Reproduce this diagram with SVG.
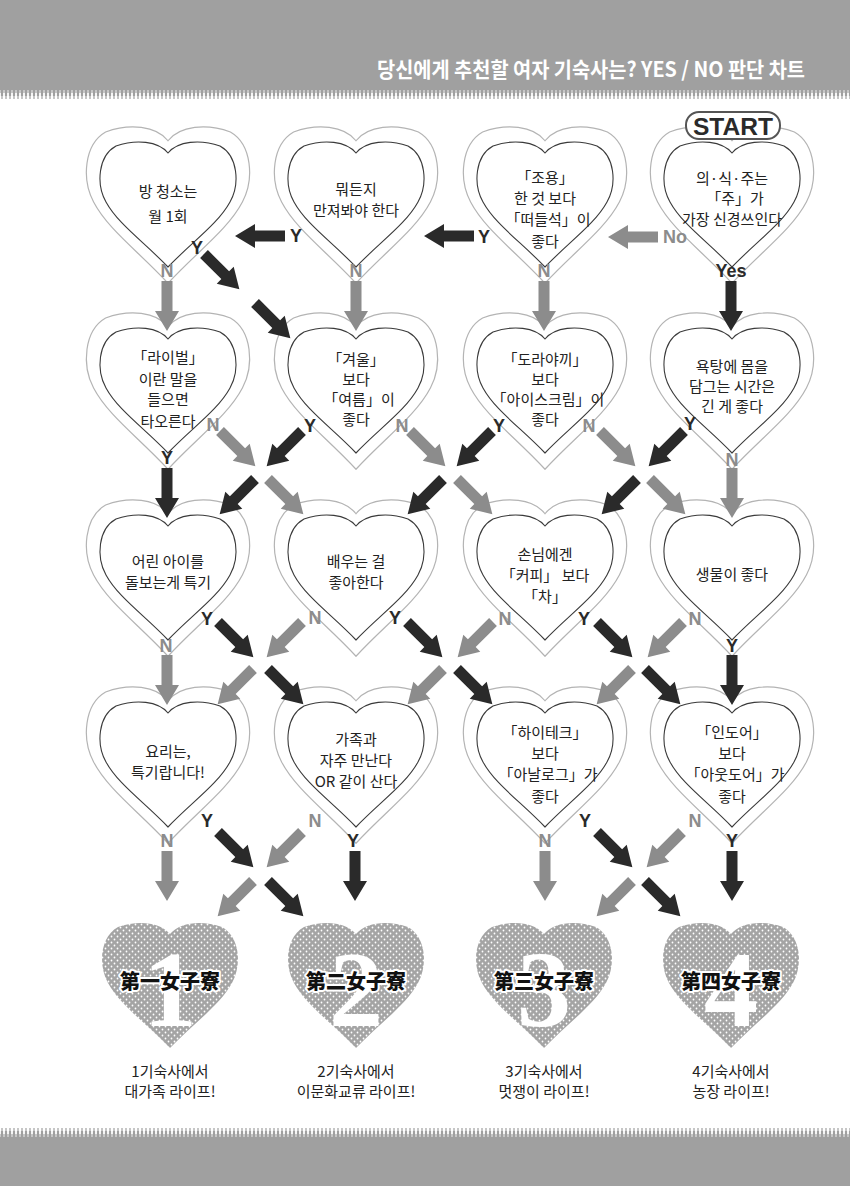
<svg xmlns="http://www.w3.org/2000/svg" width="850" height="1186" viewBox="0 0 850 1186">
<style>
.ho{fill:#fff;stroke:#b4b4b4;stroke-width:1.2}
.hi{fill:#fff;stroke:#3a3a3a;stroke-width:1.1}
.t{font-family:"Noto Sans CJK JP","Noto Sans CJK KR","Noto Sans",sans-serif;font-size:15px;fill:#222;text-anchor:middle}
.lab{font-family:"Liberation Sans",Arial,sans-serif;font-weight:bold;font-size:18px;text-anchor:middle}
.lb{fill:#2a2a2a}
.lg{fill:#8c8c8c}
.ab{fill:#2a2a2a}
.ag{fill:#8c8c8c}
.res{fill:url(#dots)}
.num{font-family:"Liberation Serif",serif;font-weight:bold;font-size:108px;fill:#fff;text-anchor:middle}
.dorm{font-family:"Noto Sans CJK JP","Noto Sans CJK SC",sans-serif;font-weight:900;font-size:20px;fill:#111;stroke:#fff;stroke-width:4;paint-order:stroke;stroke-linejoin:round;text-anchor:middle}
</style>
<defs>
<path id="hp" vector-effect="non-scaling-stroke" d="M0,11 C-10,-1 -32,-3 -52,4 C-70,14 -72,42 -62,60 C-50,82 -24,100 0,125 C24,100 50,82 62,60 C72,42 70,14 52,4 C32,-3 10,-1 0,11 Z"/>
<path id="ar" d="M0,-5.5 H30 V-12 L50,0 L30,12 V5.5 H0 Z"/>
<pattern id="dots" patternUnits="userSpaceOnUse" width="6" height="6">
<rect width="6" height="6" fill="#a4a4a4"/>
<circle cx="1.5" cy="1.5" r="0.9" fill="#fff"/>
<circle cx="4.5" cy="4.5" r="0.9" fill="#fff"/>
</pattern>
<pattern id="htTop" patternUnits="userSpaceOnUse" x="0" y="87" width="4" height="13">
<rect x="0" y="0" width="4" height="3" fill="#a0a0a0"/>
<rect x="0.4" y="3" width="3.2" height="3" fill="#a0a0a0"/>
<rect x="0.9" y="6" width="2.2" height="3" fill="#a0a0a0"/>
<rect x="1.4" y="9" width="1.2" height="3" fill="#a0a0a0"/>
</pattern>
<pattern id="htBot" patternUnits="userSpaceOnUse" x="0" y="1127" width="4" height="13">
<rect x="1.4" y="1" width="1.2" height="3" fill="#a0a0a0"/>
<rect x="0.9" y="4" width="2.2" height="3" fill="#a0a0a0"/>
<rect x="0.4" y="7" width="3.2" height="3" fill="#a0a0a0"/>
<rect x="0" y="10" width="4" height="3" fill="#a0a0a0"/>
</pattern>
</defs>
<rect width="850" height="1186" fill="#fff"/>
<g id="header">
<rect x="0" y="0" width="850" height="87" fill="#a0a0a0"/>
<rect x="0" y="87" width="850" height="13" fill="url(#htTop)"/>
<text x="377" y="77" font-family="Noto Sans CJK KR,sans-serif" font-weight="bold" font-size="21" fill="#fff" textLength="428" lengthAdjust="spacingAndGlyphs">당신에게 추천할 여자 기숙사는? YES / NO 판단 차트</text>
</g>
<g id="footer">
<rect x="0" y="1127" width="850" height="13" fill="url(#htBot)"/>
<rect x="0" y="1140" width="850" height="46" fill="#a0a0a0"/>
</g>

<!-- Row 1 -->
<g id="q-room">
<use href="#hp" class="ho" transform="translate(168,127) scale(1.2,1.25)"/>
<use href="#hp" class="hi" transform="translate(168,142)"/>
<text class="t" x="168" y="197">방 청소는</text>
<text class="t" x="168" y="222">월 1회</text>
</g>
<g id="q-touch">
<use href="#hp" class="ho" transform="translate(356,127) scale(1.2,1.25)"/>
<use href="#hp" class="hi" transform="translate(356,142)"/>
<text class="t" x="356" y="195">뭐든지</text>
<text class="t" x="356" y="216">만져봐야 한다</text>
</g>
<g id="q-quiet">
<use href="#hp" class="ho" transform="translate(545,127) scale(1.2,1.25)"/>
<use href="#hp" class="hi" transform="translate(545,142)"/>
<text class="t" x="545" y="183">「조용」</text>
<text class="t" x="545" y="204">한 것 보다</text>
<text class="t" x="548" y="225">「떠들석」이</text>
<text class="t" x="545" y="247">좋다</text>
</g>
<g id="q-start">
<use href="#hp" class="ho" transform="translate(732,127) scale(1.2,1.25)"/>
<use href="#hp" class="hi" transform="translate(732,142)"/>
<text class="t" x="732" y="184">의·식·주는</text>
<text class="t" x="735" y="204">「주」가</text>
<text class="t" x="732" y="225">가장 신경쓰인다</text>
<rect x="686" y="112" width="94" height="27" rx="13" fill="#fff" stroke="#555" stroke-width="2"/>
<text x="733" y="135" font-family="Liberation Sans,Arial,sans-serif" font-weight="bold" font-size="24" fill="#2a2a2a" text-anchor="middle" textLength="80" lengthAdjust="spacingAndGlyphs">START</text>
</g>

<!-- Row 2 -->
<g id="q-rival">
<use href="#hp" class="ho" transform="translate(168,313) scale(1.2,1.25)"/>
<use href="#hp" class="hi" transform="translate(168,328)"/>
<text class="t" x="168" y="363">「라이벌」</text>
<text class="t" x="168" y="385">이란 말을</text>
<text class="t" x="168" y="405">들으면</text>
<text class="t" x="168" y="427">타오른다</text>
</g>
<g id="q-summer">
<use href="#hp" class="ho" transform="translate(356,313) scale(1.2,1.25)"/>
<use href="#hp" class="hi" transform="translate(356,328)"/>
<text class="t" x="356" y="365">「겨울」</text>
<text class="t" x="356" y="385">보다</text>
<text class="t" x="359" y="405">「여름」이</text>
<text class="t" x="356" y="425">좋다</text>
</g>
<g id="q-icecream">
<use href="#hp" class="ho" transform="translate(545,313) scale(1.2,1.25)"/>
<use href="#hp" class="hi" transform="translate(545,328)"/>
<text class="t" x="545" y="365">「도라야끼」</text>
<text class="t" x="545" y="385">보다</text>
<text class="t" x="548" y="405">「아이스크림」이</text>
<text class="t" x="545" y="425">좋다</text>
</g>
<g id="q-bath">
<use href="#hp" class="ho" transform="translate(732,313) scale(1.2,1.25)"/>
<use href="#hp" class="hi" transform="translate(732,328)"/>
<text class="t" x="732" y="372">욕탕에 몸을</text>
<text class="t" x="732" y="392">담그는 시간은</text>
<text class="t" x="732" y="412">긴 게 좋다</text>
</g>

<!-- Row 3 -->
<g id="q-kids">
<use href="#hp" class="ho" transform="translate(168,500) scale(1.2,1.25)"/>
<use href="#hp" class="hi" transform="translate(168,515)"/>
<text class="t" x="168" y="567">어린 아이를</text>
<text class="t" x="168" y="588">돌보는게 특기</text>
</g>
<g id="q-learn">
<use href="#hp" class="ho" transform="translate(356,500) scale(1.2,1.25)"/>
<use href="#hp" class="hi" transform="translate(356,515)"/>
<text class="t" x="356" y="567">배우는 걸</text>
<text class="t" x="356" y="588">좋아한다</text>
</g>
<g id="q-tea">
<use href="#hp" class="ho" transform="translate(545,500) scale(1.2,1.25)"/>
<use href="#hp" class="hi" transform="translate(545,515)"/>
<text class="t" x="545" y="560">손님에겐</text>
<text class="t" x="545" y="581">「커피」 보다</text>
<text class="t" x="545" y="602">「차」</text>
</g>
<g id="q-animals">
<use href="#hp" class="ho" transform="translate(732,500) scale(1.2,1.25)"/>
<use href="#hp" class="hi" transform="translate(732,515)"/>
<text class="t" x="732" y="580">생물이 좋다</text>
</g>

<!-- Row 4 -->
<g id="q-cook">
<use href="#hp" class="ho" transform="translate(168,687) scale(1.2,1.25)"/>
<use href="#hp" class="hi" transform="translate(168,702)"/>
<text class="t" x="168" y="757">요리는,</text>
<text class="t" x="168" y="778">특기랍니다!</text>
</g>
<g id="q-family">
<use href="#hp" class="ho" transform="translate(356,687) scale(1.2,1.25)"/>
<use href="#hp" class="hi" transform="translate(356,702)"/>
<text class="t" x="356" y="745">가족과</text>
<text class="t" x="356" y="766">자주 만난다</text>
<text class="t" x="356" y="787">OR 같이 산다</text>
</g>
<g id="q-analog">
<use href="#hp" class="ho" transform="translate(545,687) scale(1.2,1.25)"/>
<use href="#hp" class="hi" transform="translate(545,702)"/>
<text class="t" x="545" y="738">「하이테크」</text>
<text class="t" x="545" y="759">보다</text>
<text class="t" x="548" y="780">「아날로그」가</text>
<text class="t" x="545" y="802">좋다</text>
</g>
<g id="q-outdoor">
<use href="#hp" class="ho" transform="translate(732,687) scale(1.2,1.25)"/>
<use href="#hp" class="hi" transform="translate(732,702)"/>
<text class="t" x="732" y="738">「인도어」</text>
<text class="t" x="732" y="759">보다</text>
<text class="t" x="735" y="780">「아웃도어」가</text>
<text class="t" x="732" y="802">좋다</text>
</g>

<!-- Results -->
<g id="r1">
<use href="#hp" class="res" transform="translate(170,923)"/>
<text class="num" x="170" y="1026">1</text>
<text class="dorm" x="170" y="989">第一女子寮</text>
<text class="t" x="170" y="1077">1기숙사에서</text>
<text class="t" x="170" y="1097">대가족 라이프!</text>
</g>
<g id="r2">
<use href="#hp" class="res" transform="translate(356,923)"/>
<text class="num" x="356" y="1026">2</text>
<text class="dorm" x="356" y="989">第二女子寮</text>
<text class="t" x="356" y="1077">2기숙사에서</text>
<text class="t" x="356" y="1097">이문화교류 라이프!</text>
</g>
<g id="r3">
<use href="#hp" class="res" transform="translate(544,923)"/>
<text class="num" x="544" y="1026">3</text>
<text class="dorm" x="544" y="989">第三女子寮</text>
<text class="t" x="544" y="1077">3기숙사에서</text>
<text class="t" x="544" y="1097">멋쟁이 라이프!</text>
</g>
<g id="r4">
<use href="#hp" class="res" transform="translate(731,923)"/>
<text class="num" x="731" y="1026">4</text>
<text class="dorm" x="731" y="989">第四女子寮</text>
<text class="t" x="731" y="1077">4기숙사에서</text>
<text class="t" x="731" y="1097">농장 라이프!</text>
</g>

<g id="connectors">
<!-- row 1 -->
<use href="#ar" class="ag" transform="translate(658,237) rotate(180)"/>
<use href="#ar" class="ab" transform="translate(474,236) rotate(180)"/>
<use href="#ar" class="ab" transform="translate(285,236) rotate(180)"/>
<use href="#ar" class="ab" transform="translate(204,254) rotate(45)"/>
<use href="#ar" class="ab" transform="translate(255,303) rotate(45)"/>
<use href="#ar" class="ag" transform="translate(167,281) rotate(90)"/>
<use href="#ar" class="ag" transform="translate(356,281) rotate(90)"/>
<use href="#ar" class="ag" transform="translate(544,281) rotate(90)"/>
<use href="#ar" class="ab" transform="translate(731,281) rotate(90)"/>
<!-- row 2 -->
<use href="#ar" class="ag" transform="translate(220,431) rotate(45)"/>
<use href="#ar" class="ab" transform="translate(167,468) rotate(90)"/>
<use href="#ar" class="ab" transform="translate(302,431) rotate(135)"/>
<use href="#ar" class="ag" transform="translate(410,431) rotate(45)"/>
<use href="#ar" class="ab" transform="translate(492,431) rotate(135)"/>
<use href="#ar" class="ag" transform="translate(600,431) rotate(45)"/>
<use href="#ar" class="ab" transform="translate(684,431) rotate(135)"/>
<use href="#ar" class="ag" transform="translate(732,468) rotate(90)"/>
<use href="#ar" class="ab" transform="translate(255,479) rotate(135)"/>
<use href="#ar" class="ag" transform="translate(268,479) rotate(45)"/>
<use href="#ar" class="ab" transform="translate(443,479) rotate(135)"/>
<use href="#ar" class="ag" transform="translate(457,479) rotate(45)"/>
<use href="#ar" class="ab" transform="translate(637,479) rotate(135)"/>
<use href="#ar" class="ag" transform="translate(650,479) rotate(45)"/>
<!-- row 3 -->
<use href="#ar" class="ab" transform="translate(218,622) rotate(45)"/>
<use href="#ar" class="ag" transform="translate(167,655) rotate(90)"/>
<use href="#ar" class="ag" transform="translate(302,622) rotate(135)"/>
<use href="#ar" class="ab" transform="translate(407,622) rotate(45)"/>
<use href="#ar" class="ag" transform="translate(493,622) rotate(135)"/>
<use href="#ar" class="ab" transform="translate(597,622) rotate(45)"/>
<use href="#ar" class="ag" transform="translate(683,622) rotate(135)"/>
<use href="#ar" class="ab" transform="translate(732,655) rotate(90)"/>
<use href="#ar" class="ag" transform="translate(253,669) rotate(135)"/>
<use href="#ar" class="ab" transform="translate(268,669) rotate(45)"/>
<use href="#ar" class="ag" transform="translate(443,669) rotate(135)"/>
<use href="#ar" class="ab" transform="translate(457,669) rotate(45)"/>
<use href="#ar" class="ag" transform="translate(632,669) rotate(135)"/>
<use href="#ar" class="ab" transform="translate(645,669) rotate(45)"/>
<!-- row 4 -->
<use href="#ar" class="ab" transform="translate(218,832) rotate(45)"/>
<use href="#ar" class="ag" transform="translate(167,851) rotate(90)"/>
<use href="#ar" class="ag" transform="translate(302,832) rotate(135)"/>
<use href="#ar" class="ab" transform="translate(355,851) rotate(90)"/>
<use href="#ar" class="ab" transform="translate(597,832) rotate(45)"/>
<use href="#ar" class="ag" transform="translate(545,851) rotate(90)"/>
<use href="#ar" class="ag" transform="translate(682,832) rotate(135)"/>
<use href="#ar" class="ab" transform="translate(732,851) rotate(90)"/>
<use href="#ar" class="ag" transform="translate(253,881) rotate(135)"/>
<use href="#ar" class="ab" transform="translate(268,881) rotate(45)"/>
<use href="#ar" class="ag" transform="translate(632,881) rotate(135)"/>
<use href="#ar" class="ab" transform="translate(645,881) rotate(45)"/>
<!-- labels -->
<text class="lab lb" x="197" y="254">Y</text>
<text class="lab lg" x="167" y="277">N</text>
<text class="lab lb" x="296" y="242">Y</text>
<text class="lab lg" x="356" y="277">N</text>
<text class="lab lb" x="484" y="243">Y</text>
<text class="lab lg" x="544" y="277">N</text>
<text class="lab lg" x="675" y="243">No</text>
<text class="lab lb" x="731" y="277">Yes</text>

<text class="lab lg" x="213" y="431">N</text>
<text class="lab lb" x="167" y="464">Y</text>
<text class="lab lb" x="310" y="432">Y</text>
<text class="lab lg" x="402" y="432">N</text>
<text class="lab lb" x="499" y="432">Y</text>
<text class="lab lg" x="589" y="432">N</text>
<text class="lab lb" x="690" y="430">Y</text>
<text class="lab lg" x="732" y="466">N</text>

<text class="lab lb" x="207" y="625">Y</text>
<text class="lab lg" x="166" y="652">N</text>
<text class="lab lg" x="315" y="624">N</text>
<text class="lab lb" x="395" y="624">Y</text>
<text class="lab lg" x="505" y="625">N</text>
<text class="lab lb" x="584" y="625">Y</text>
<text class="lab lg" x="695" y="625">N</text>
<text class="lab lb" x="732" y="652">Y</text>

<text class="lab lb" x="207" y="827">Y</text>
<text class="lab lg" x="167" y="847">N</text>
<text class="lab lg" x="315" y="827">N</text>
<text class="lab lb" x="353" y="847">Y</text>
<text class="lab lb" x="585" y="827">Y</text>
<text class="lab lg" x="545" y="847">N</text>
<text class="lab lg" x="695" y="827">N</text>
<text class="lab lb" x="732" y="847">Y</text>
</g>
</svg>
